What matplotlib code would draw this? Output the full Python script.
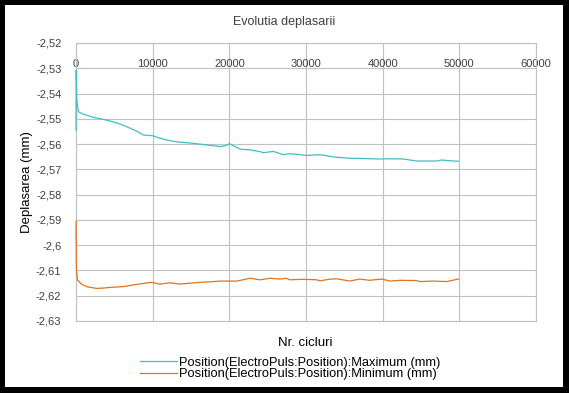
import matplotlib.pyplot as plt
from matplotlib.patches import Rectangle
from matplotlib.ticker import FuncFormatter, MultipleLocator

# date
cicluri_max = [0, 30, 100, 300, 1000, 2260, 4000, 5500, 6600, 8000, 8780, 10000,
               10960, 12000, 13130, 15300, 17000, 18780, 19600, 20000, 20500,
               21400, 22700, 24000, 24430, 25740, 27040, 27900, 29000, 30090,
               31830, 33000, 34000, 35740, 37500, 39650, 41000, 42700, 44430,
               46000, 47000, 47700, 48800, 49870]
poz_max = [-2.5545, -2.5307, -2.5425, -2.5472, -2.5482, -2.5494, -2.5505, -2.5518,
           -2.5531, -2.5550, -2.5564, -2.5567, -2.5577, -2.5585, -2.5591, -2.5597,
           -2.5603, -2.5610, -2.5606, -2.5598, -2.5606, -2.5620, -2.5623, -2.5630,
           -2.5634, -2.5629, -2.5642, -2.5638, -2.5641, -2.5645, -2.5642, -2.5648,
           -2.5652, -2.5656, -2.5657, -2.5659, -2.5658, -2.5659, -2.5667, -2.5667,
           -2.5667, -2.5663, -2.5666, -2.5668]

cicluri_min = [0, 50, 200, 740, 1500, 2700, 3500, 4430, 6170, 7910, 9870, 10960,
               12260, 13570, 15000, 16170, 17500, 18780, 20960, 22700, 24000,
               25300, 26600, 27450, 27900, 29500, 31400, 31800, 33000, 34000,
               35700, 37000, 38300, 39870, 40960, 42260, 44430, 44870, 46600,
               48350, 49870]
poz_min = [-2.5905, -2.6098, -2.6138, -2.6155, -2.6165, -2.6171, -2.6170, -2.6167,
           -2.6164, -2.6155, -2.6147, -2.6154, -2.6149, -2.6154, -2.6150, -2.6147,
           -2.6145, -2.6142, -2.6142, -2.6131, -2.6137, -2.6131, -2.6134, -2.6131,
           -2.6137, -2.6135, -2.6137, -2.6141, -2.6135, -2.6133, -2.6142, -2.6134,
           -2.6139, -2.6134, -2.6142, -2.6139, -2.6140, -2.6144, -2.6142, -2.6144,
           -2.6134]

eticheta_max = "Position(ElectroPuls:Position):Maximum (mm)"
eticheta_min = "Position(ElectroPuls:Position):Minimum (mm)"

plt.rcParams['font.family'] = 'Liberation Sans'

W, H = 569, 393
fig = plt.figure(figsize=(W / 100, H / 100), dpi=100, facecolor='black')
# zona alba a graficului (chenar negru in jur)
fig.patches.append(Rectangle((5 / W, 1 - 387 / H), 558 / W, 382 / H,
                             transform=fig.transFigure, facecolor='white',
                             edgecolor='none', zorder=-10))

ax = fig.add_axes([76 / W, 1 - 321 / H, 460 / W, 278 / H])
ax.set_zorder(5)
ax.set_facecolor('white')

ax.plot(cicluri_max, poz_max, color='#3FBFC2', lw=0.9, label=eticheta_max,
        zorder=4, clip_on=False)
ax.plot(cicluri_min, poz_min, color='#E2721C', lw=0.9, label=eticheta_min,
        zorder=4, clip_on=False)

ax.set_xlim(0, 60000)
ax.set_ylim(-2.63, -2.52)
ax.xaxis.set_major_locator(MultipleLocator(10000))
ax.yaxis.set_major_locator(MultipleLocator(0.01))
ax.yaxis.set_major_formatter(FuncFormatter(
    lambda v, p: f"{v:.2f}".rstrip('0').rstrip('.').replace('.', ',')))

ax.grid(True, color='#C0C0C0', lw=0.8)
ax.set_axisbelow(True)
for s in ax.spines.values():
    s.set_color('#C0C0C0')
    s.set_linewidth(0.8)

ax.tick_params(axis='x', top=False, bottom=False, labelbottom=False,
               labeltop=True, pad=-22, labelsize=8, labelcolor='#404040')
ax.tick_params(axis='y', left=False, pad=7, labelsize=8, labelcolor='#404040')

fig.text(284 / W, 1 - 22 / H, "Evolutia deplasarii", ha='center', va='center',
         fontsize=9, color='#404040', zorder=6)
fig.text(305 / W, 1 - 343 / H, "Nr. cicluri", ha='center', va='center',
         fontsize=9.5, color='black', zorder=6)
fig.text(27 / W, 1 - 182 / H, "Deplasarea (mm)", ha='center', va='center',
         rotation=90, fontsize=9.5, color='black', zorder=6)

leg = fig.legend(loc='center', bbox_to_anchor=(290 / W, 1 - 368.5 / H), frameon=False,
                 fontsize=9.3, handlelength=2.9, handletextpad=0.15, labelspacing=-0.05,
                 borderpad=0)
leg.set_zorder(6)

fig.savefig('out.png', dpi=100, facecolor=fig.get_facecolor())
